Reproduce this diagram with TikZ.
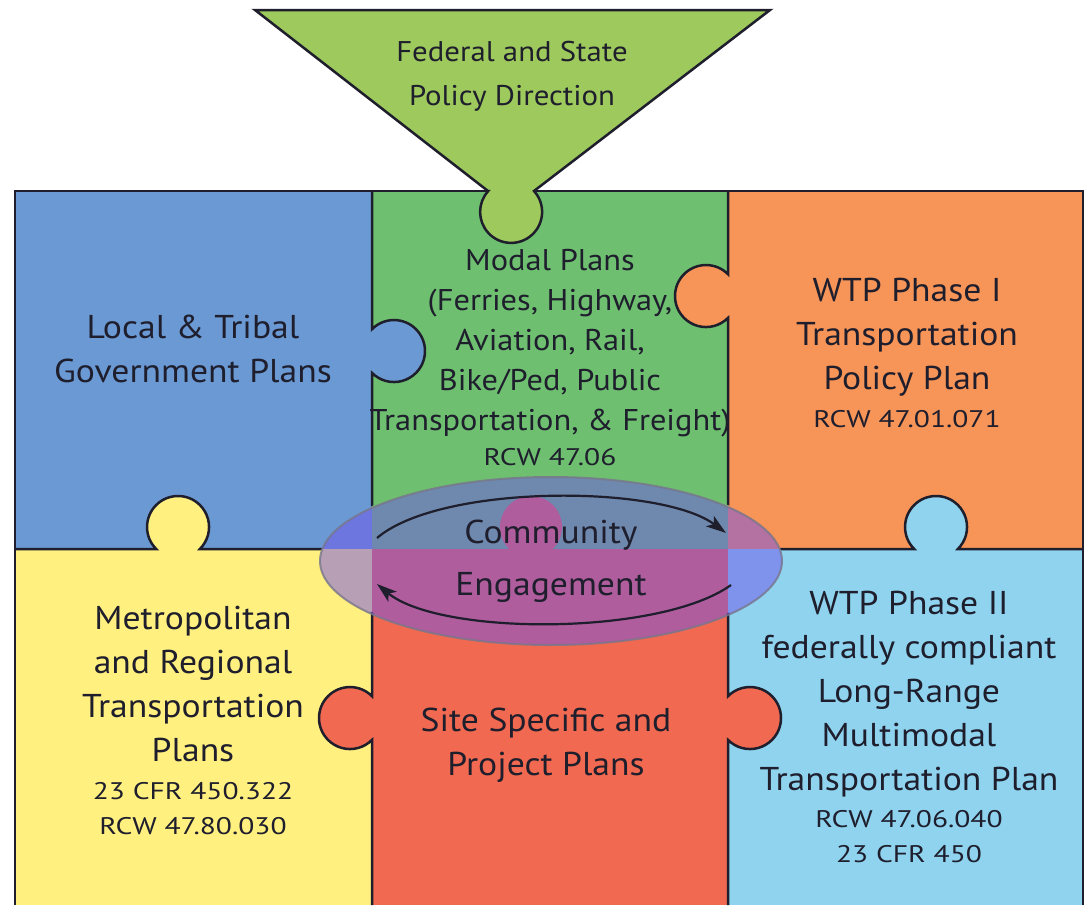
\documentclass[tikz,border=0pt]{standalone}
\usepackage{fontspec}
\setmainfont[FakeStretch=1.08]{PT Sans}
\usetikzlibrary{arrows.meta,shapes.geometric,positioning}
\definecolor{ink}{RGB}{30,30,45}
\definecolor{trigreen}{RGB}{158,201,92}
\definecolor{bluecell}{RGB}{107,153,211}
\definecolor{greencell}{RGB}{110,191,112}
\definecolor{orangecell}{RGB}{247,148,88}
\definecolor{yellowcell}{RGB}{255,240,128}
\definecolor{redcell}{RGB}{240,105,80}
\definecolor{skycell}{RGB}{143,211,239}
\definecolor{haze}{RGB}{112,82,235}
\definecolor{rim}{RGB}{120,118,140}
\newcommand{\rcw}[1]{{\addfontfeature{FakeStretch=1.23}\fontsize{24}{30}\selectfont #1}}

\begin{document}
\begin{tikzpicture}[x=1pt,y=-1pt,
    grid/.style={line width=2.5pt,draw=ink},
    plan/.style={text=ink,align=center,inner sep=0pt,font=\fontsize{33}{44}\selectfont},
    modal/.style={plan,font=\fontsize{30}{40}\selectfont},
    loopline/.style={line width=2.2pt,draw=ink,-{Stealth[length=20pt,width=13pt,inset=5pt]}}]
\useasboundingbox (0,0) rectangle (1087,905);
% the six pieces
\fill[bluecell] (15,191) rectangle (372,549);
\fill[greencell] (372,191) rectangle (728,549);
\fill[orangecell] (728,191) rectangle (1083,549);
\fill[yellowcell] (15,549) rectangle (372,905);
\fill[redcell] (372,549) rectangle (728,905);
\fill[skycell] (728,549) rectangle (1083,905);
% tabs
\fill[bluecell] (394,351) circle[radius=31];
\fill[orangecell] (706,296) circle[radius=31];
\fill[yellowcell] (178,527) circle[radius=31];
\fill[skycell] (936,527) circle[radius=31];
\fill[redcell] (531,527) circle[radius=31];
\fill[redcell] (350,718) circle[radius=31];
\fill[redcell] (750,718) circle[radius=31];
% outlines, kept off the ellipse
\begin{scope}[even odd rule]
  \clip (0,0) rectangle (1087,905) (551,559) ellipse[x radius=231,y radius=84];
  \draw[grid] (15,905) -- (15,191) -- (1083,191) -- (1083,905);
  \draw[grid] (372,191) -- (372,329.2) arc[start angle=-135.2,end angle=135.2,radius=31]
    -- (372,696.2) arc[start angle=-44.8,end angle=-315.2,radius=31] -- (372,905);
  \draw[grid] (728,191) -- (728,274.2) arc[start angle=-44.8,end angle=-315.2,radius=31]
    -- (728,696.2) arc[start angle=-135.2,end angle=135.2,radius=31] -- (728,905);
  \draw[grid] (15,549) -- (156.2,549) arc[start angle=134.8,end angle=405.2,radius=31]
    -- (509.2,549) arc[start angle=134.8,end angle=405.2,radius=31]
    -- (914.2,549) arc[start angle=134.8,end angle=405.2,radius=31] -- (1083,549);
\end{scope}
% policy funnel
\filldraw[grid,fill=trigreen] (255,10) -- (770,10) -- (534,191)
  arc[start angle=-42.4,end angle=222.4,radius=31] -- (488,191) -- cycle;
\node[plan,font=\fontsize{28.5}{44}\selectfont] (fed) at (512,76) {Federal and State\\Policy Direction};

\node[plan] (local) at (193,349) {Local \& Tribal\\Government Plans};
\node[modal] (modal) at (550,358) {Modal Plans\\(Ferries, Highway,\\Aviation, Rail,\\Bike/Ped, Public\\Transportation, \& Freight)\\[-5pt]\rcw{RCW 47.06}};
\node[plan] (wtp1) at (907,353) {WTP Phase I\\Transportation\\Policy Plan\\[-6pt]\rcw{RCW 47.01.071}};
\node[plan] (metro) at (193,720) {Metropolitan\\and Regional\\Transportation\\Plans\\[-6pt]\rcw{23 CFR 450.322}\\[-9pt]\rcw{RCW 47.80.030}};
\node[plan] (site) at (546,745) {Site Specific and\\Project Plans};
\node[plan] (wtp2) at (909,727) {WTP Phase II\\federally compliant\\Long-Range\\Multimodal\\Transportation Plan\\[-7pt]\rcw{RCW 47.06.040}\\[-9pt]\rcw{23 CFR 450}};

% community engagement
\node[ellipse,minimum width=462pt,minimum height=168pt,fill=haze,fill opacity=0.5,
  draw=rim,draw opacity=0.8,line width=2pt,text opacity=1,plan,
  font=\fontsize{33}{52}\selectfont] (engage) at (551,561) {Community\\Engagement};
\coordinate (ul) at (377,538);
\coordinate (ur) at (726,533);
\coordinate (lr) at (731,585);
\coordinate (ll) at (377,584);
\draw[loopline] (ul) .. controls (440,484) and (660,484) .. (ur);
\draw[loopline] (lr) .. controls (660,636) and (440,636) .. (ll);
\end{tikzpicture}
\end{document}
